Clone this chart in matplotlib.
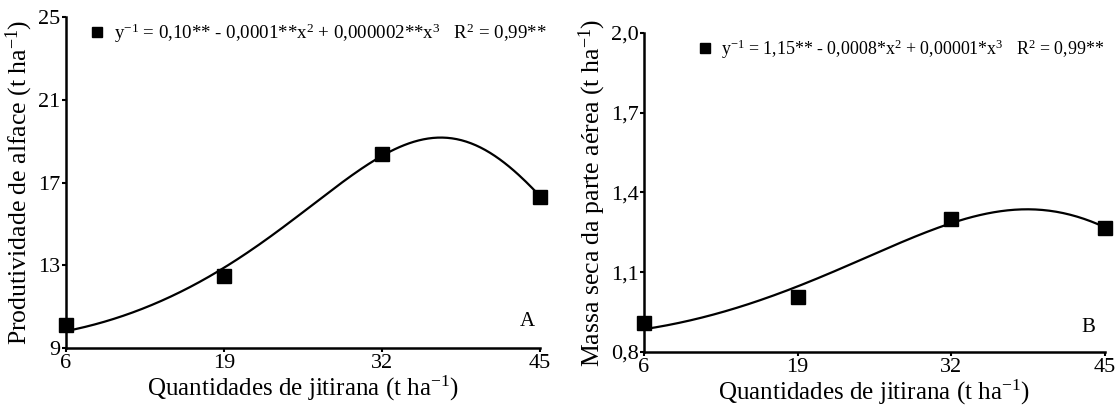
import numpy as np
import matplotlib.pyplot as plt

plt.rcParams['font.family'] = ['Liberation Serif', 'DejaVu Serif']
plt.rcParams['mathtext.fontset'] = 'custom'
plt.rcParams['mathtext.rm'] = 'Liberation Serif'
plt.rcParams['mathtext.it'] = 'Liberation Serif:italic'

# data
doses = [6, 19, 32, 45]
prod_alface = [10.1, 12.5, 18.4, 16.3]
massa_seca = [0.91, 1.005, 1.30, 1.265]

ticks_a = [9, 13, 17, 21, 25]
ticks_b = [0.8, 1.1, 1.4, 1.7, 2.0]
labels_b = ["0,8", "1,1", "1,4", "1,7", "2,0"]

eq_a = r"y$^{\mathrm{-1}}$ = 0,10** - 0,0001**x$^{\mathrm{2}}$ + 0,000002**x$^{\mathrm{3}}$   R$^{\mathrm{2}}$ = 0,99**"
eq_b = r"y$^{\mathrm{-1}}$ = 1,15** - 0,0008*x$^{\mathrm{2}}$ + 0,00001*x$^{\mathrm{3}}$   R$^{\mathrm{2}}$ = 0,99**"


def fit_inv(x, y):
    # y^-1 = a + b x^2 + c x^3, fitted to the points (weighted so residuals are ~ in y)
    x = np.array(x, float)
    y = np.array(y, float)
    w = y**2
    A = np.column_stack([np.ones_like(x), x**2, x**3]) * w[:, None]
    coef = np.linalg.lstsq(A, w/y, rcond=None)[0]
    xx = np.linspace(x.min(), x.max(), 200)
    return xx, 1.0/(coef[0] + coef[1]*xx**2 + coef[2]*xx**3)


fig = plt.figure(figsize=(11.17, 4.05), dpi=100)
axA = fig.add_axes([0.0591, 0.1407, 0.4244, 0.8173])
axB = fig.add_axes([0.5765, 0.1309, 0.4127, 0.7877])

panels = [
    (axA, prod_alface, ticks_a, [str(t) for t in ticks_a], eq_a,
     r"Produtividade de alface (t ha$^{\mathrm{-1}}$)", "A",
     (0.0496, 0.952), 13.6, -0.065, (0.973, 0.079)),
    (axB, massa_seca, ticks_b, labels_b, eq_b,
     r"Massa seca da parte aérea (t ha$^{\mathrm{-1}}$)", "B",
     (0.116, 0.95), 12.9, -0.078, (0.965, 0.078)),
]

for ax, yv, yt, ytl, eq, ylab, letter, leg_xy, leg_fs, ylab_x, let_xy in panels:
    xx, yy = fit_inv(doses, yv)
    ax.plot(xx, yy, color="black", lw=1.6)
    ax.plot(doses, yv, "s", color="black", ms=10, clip_on=False, zorder=5,
            label=eq)
    ax.set_xlim(6, 45)
    ax.set_ylim(yt[0], yt[-1])
    ax.set_xticks(doses)
    ax.set_yticks(yt)
    ax.set_yticklabels(ytl)
    ax.spines["top"].set_visible(False)
    ax.spines["right"].set_visible(False)
    ax.spines["left"].set_linewidth(1.8)
    ax.spines["bottom"].set_linewidth(1.8)
    ax.tick_params(direction="out", length=3, width=1.5, labelsize=16, pad=1)
    ax.set_xlabel(r"Quantidades de jitirana (t ha$^{\mathrm{-1}}$)", fontsize=18, labelpad=1)
    ax.set_ylabel(ylab, fontsize=18.5)
    ax.yaxis.set_label_coords(ylab_x, 0.5)
    leg = ax.legend(loc="center left", bbox_to_anchor=leg_xy, frameon=False,
                    fontsize=leg_fs, handlelength=0.8, handletextpad=0.5,
                    markerscale=0.7, borderpad=0, borderaxespad=0)
    leg.set_clip_on(False)
    ax.text(let_xy[0], let_xy[1], letter, transform=ax.transAxes, fontsize=15,
            ha="center", va="center")

fig.savefig("out.png", dpi=100)
